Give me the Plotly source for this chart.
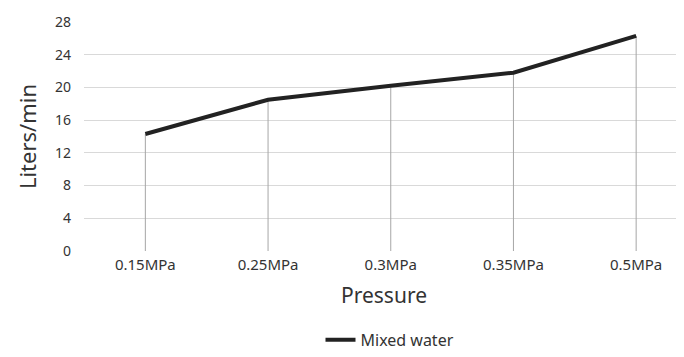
import plotly.graph_objects as go

categories = ["0.15MPa", "0.25MPa", "0.3MPa", "0.35MPa", "0.5MPa"]
flow = [14.3, 18.5, 20.2, 21.8, 26.3]
y_ticks = [0, 4, 8, 12, 16, 20, 24, 28]

drop_x, drop_y = [], []
for c, v in zip(categories, flow):
    drop_x += [c, c, None]
    drop_y += [0, v, None]

fig = go.Figure()
fig.add_trace(go.Scatter(x=drop_x, y=drop_y, mode="lines",
                         line=dict(color="#a6a6a6", width=1),
                         showlegend=False, hoverinfo="skip"))
fig.add_trace(go.Scatter(x=categories, y=flow, mode="lines", name="Mixed water",
                         line=dict(color="#222222", width=4)))

font_family = "Noto Sans, Open Sans, sans-serif"
fig.update_layout(
    width=676, height=349,
    margin=dict(l=76, r=0, t=14, b=101),
    paper_bgcolor="white", plot_bgcolor="white",
    font=dict(family=font_family, color="#333333", size=14),
    showlegend=True,
    legend=dict(orientation="h", x=0.51, xanchor="center", y=-0.388, yanchor="middle",
                font=dict(size=16, color="#333333")),
    xaxis=dict(type="category", categoryorder="array", categoryarray=categories,
               range=[-0.5, 4.39], showgrid=False, zeroline=False, showline=False,
               ticks="", tickfont=dict(size=15), automargin=False, ticklabelstandoff=3,
               title=dict(text="Pressure", font=dict(size=21), standoff=15)),
    yaxis=dict(range=[0, 28], tickvals=y_ticks, showgrid=True, gridcolor="#d9d9d9",
               gridwidth=1, zeroline=False, showline=False, ticks="",
               tickfont=dict(size=14), ticklabelstandoff=12, automargin=False,
               title=dict(text="Liters/min", font=dict(size=22), standoff=12)),
)

fig.write_html("out.html")
